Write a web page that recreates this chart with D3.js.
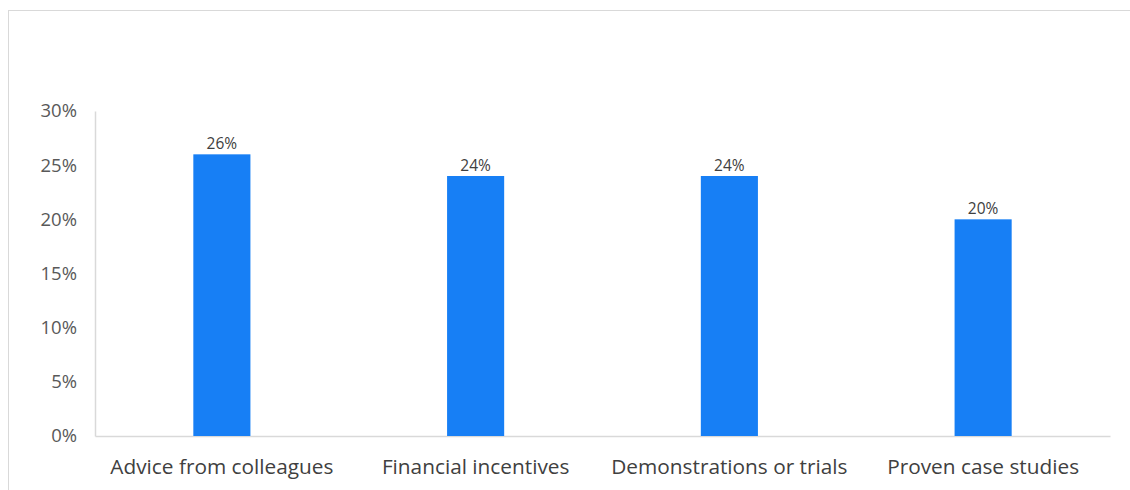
<!DOCTYPE html>
<html>
<head>
<meta charset="utf-8">
<script src="https://cdn.jsdelivr.net/npm/d3@7"></script>
<style>
  html, body { margin: 0; padding: 0; background: #fff; }
  svg { display: block; }
  svg text { font-family: "Open Sans", sans-serif; }
</style>
</head>
<body>
<svg id="chart" width="1130" height="490"></svg>
<script>
// Share of respondents citing each influence
const categories = ["Advice from colleagues", "Financial incentives", "Demonstrations or trials", "Proven case studies"];
const values = [0.26, 0.24, 0.24, 0.20];
const yTicks = [0, 0.05, 0.10, 0.15, 0.20, 0.25, 0.30];

const svg = d3.select("#chart");
const W = 1130, H = 490;
const m = { left: 95, right: 20, top: 111, bottom: 54 };
const FONT = "'Open Sans', sans-serif";

// chart frame
svg.append("rect")
  .attr("x", 8.5).attr("y", 10.5)
  .attr("width", W + 20).attr("height", H + 20)
  .attr("fill", "#fff").attr("stroke", "#d9d9d9").attr("stroke-width", 1);

const x = d3.scaleBand().domain(categories).range([m.left, W - m.right]).paddingInner(0.775).paddingOuter(0.3875);
const y = d3.scaleLinear().domain([0, 0.30]).range([H - m.bottom, m.top]);

// y axis
const yAxis = svg.append("g").attr("transform", `translate(${m.left},0)`)
  .call(d3.axisLeft(y).tickValues(yTicks).tickFormat(d3.format(".0%")).tickSize(0).tickPadding(18))
  .attr("font-family", FONT);
yAxis.select(".domain").attr("stroke", "#d9d9d9").attr("stroke-width", 1.5);
yAxis.selectAll("text").attr("font-size", 18.5).attr("fill", "#595959");

// x axis
const xAxis = svg.append("g").attr("transform", `translate(0,${y(0)})`)
  .call(d3.axisBottom(x).tickSize(0).tickPadding(23))
  .attr("font-family", FONT);
xAxis.select(".domain").attr("stroke", "#d9d9d9").attr("stroke-width", 1.5);
xAxis.selectAll("text").attr("font-size", 20.8).attr("fill", "#404040");

// bars
svg.append("g").selectAll("rect").data(values).join("rect")
  .attr("x", (d, i) => x(categories[i]))
  .attr("y", d => y(d))
  .attr("width", x.bandwidth())
  .attr("height", d => y(0) - y(d))
  .attr("fill", "#177ff5");

// value labels
svg.append("g").selectAll("text").data(values).join("text")
  .attr("x", (d, i) => x(categories[i]) + x.bandwidth() / 2)
  .attr("y", d => y(d) - 5)
  .attr("text-anchor", "middle")
  .attr("font-family", FONT)
  .attr("font-size", 15.5)
  .attr("fill", "#404040")
  .text(d => d3.format(".0%")(d));
</script>
</body>
</html>
